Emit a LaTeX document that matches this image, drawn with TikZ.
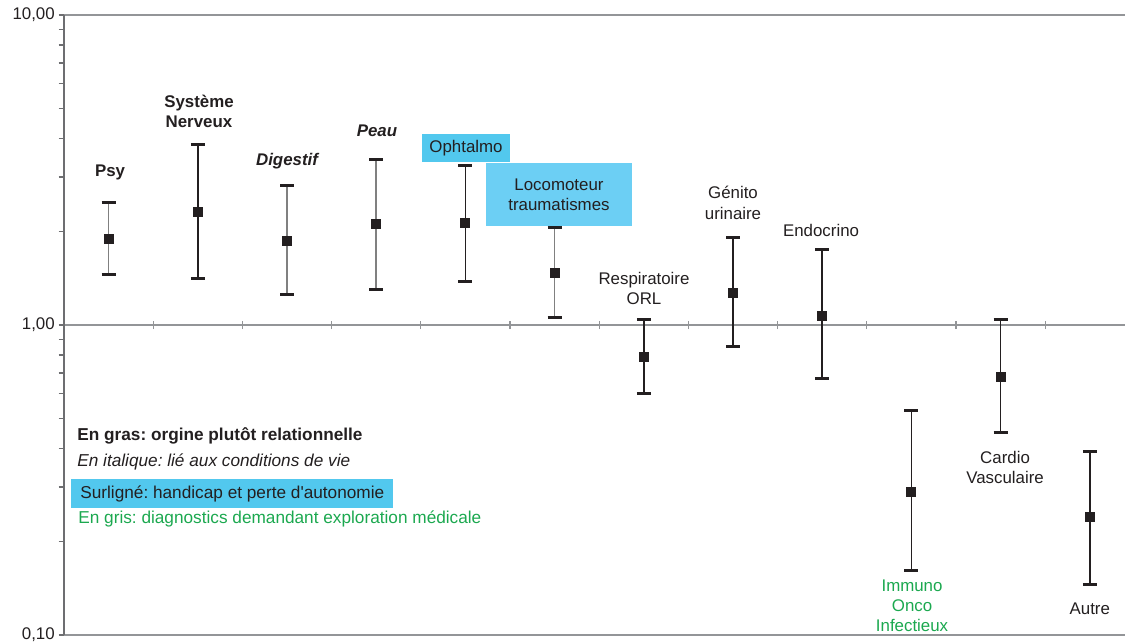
\documentclass[tikz,border=0pt]{standalone}
\usepackage{fontspec}
\setmainfont{Liberation Sans}[Ligatures=TeXOff]
\usepackage{tikz}
\usetikzlibrary{positioning}

\definecolor{textdark}{HTML}{231F20}
\definecolor{axisgray}{HTML}{6D6E71}
\definecolor{gridgray}{HTML}{939598}
\definecolor{bargray}{HTML}{808080}
\definecolor{surligne}{HTML}{52C8EE}
\definecolor{surligneclair}{HTML}{6CCFF4}
\definecolor{vertgris}{HTML}{1BA84F}

\newcommand{\chartfont}{\frenchspacing\fontsize{9.6}{11.4}\selectfont}
\newcommand{\legendfont}{\frenchspacing\fontsize{9.8}{11.4}\selectfont}

\begin{document}
\begin{tikzpicture}[
    x=1.784cm, y=6.2cm,
    every node/.style={font=\chartfont},
    axisline/.style={draw=axisgray, line width=0.7pt},
    gridline/.style={draw=gridgray, line width=0.6pt},
    barcap/.style={line width=1.7pt, draw=textdark},
    marker/.style={rectangle, fill=textdark, minimum size=0.2cm, inner sep=0pt},
    catlabel/.style={text=textdark, align=center, inner sep=0pt},
    catbold/.style={catlabel, font=\chartfont\bfseries},
    catitalic/.style={catlabel, font=\chartfont\bfseries\itshape},
    highlight/.style={fill=surligne, text=textdark, align=center, inner sep=0pt},
    legend/.style={anchor=west, text=textdark, inner sep=0pt, font=\legendfont}
]
\useasboundingbox (-0.7175,-1.0258) rectangle (11.8946,1.0484);

% axes
\draw[gridline] (0,1) -- (11.8946,1);
\draw[gridline] (0,-1) -- (11.8946,-1);
\draw[gridline] (0,0) -- (11.8946,0);
\foreach \k in {1,...,11}
  \draw[gridline] (\k,-0.013) -- (\k,0.013);
\draw[axisline] (0,-1) -- (0,1);
\foreach \d in {-1,0,1}
  \draw[axisline] (-0.06,\d) -- (0,\d);
\foreach \d in {-1,0}
  \foreach \k in {2,...,9}
    \draw[axisline] (-0.06,{\d+log10(\k)}) -- (0,{\d+log10(\k)});

\node (dix) [anchor=east, text=textdark, inner sep=0pt] at (-0.1,1) {10,00};
\node (un) [anchor=east, text=textdark, inner sep=0pt] at (-0.1,0) {1,00};
\node (dixieme) [anchor=east, text=textdark, inner sep=0pt] at (-0.1,-1) {0,10};

% barres d'erreur
\foreach \i/\c/\lo/\hi/\col in {
    1/1.89/1.45/2.48/bargray, 2/2.32/1.41/3.81/textdark,
    3/1.87/1.25/2.81/bargray, 4/2.12/1.30/3.43/bargray,
    5/2.13/1.38/3.28/textdark, 6/1.47/1.06/2.06/bargray,
    7/0.79/0.60/1.04/textdark, 8/1.27/0.85/1.91/textdark,
    9/1.07/0.67/1.75/textdark, 10/0.29/0.16/0.53/textdark,
    11/0.68/0.45/1.04/textdark, 12/0.24/0.144/0.39/textdark}{
  \coordinate (hi\i) at (\i-0.5,{log10(\hi)});
  \coordinate (lo\i) at (\i-0.5,{log10(\lo)});
  \draw[draw=\col, line width=0.9pt] (lo\i) -- (hi\i);
  \draw[barcap] ([xshift=-0.14cm]hi\i) -- ([xshift=0.14cm]hi\i);
  \draw[barcap] ([xshift=-0.14cm]lo\i) -- ([xshift=0.14cm]lo\i);
  \node (m\i) [marker] at (\i-0.5,{log10(\c)}) {};
}

% etiquettes
\node (psy) [catbold] at (0.516,0.4935) {Psy};
\node (nerveux) [catbold] at (1.513,0.690) {Système\\Nerveux};
\node (digestif) [catitalic] at (2.5,0.529) {Digestif};
\node (peau) [catitalic] at (3.509,0.626) {Peau};
\node (ophtalmo) [highlight, minimum width=1.76cm, minimum height=0.56cm] at (4.507,0.571) {Ophtalmo};
\node (locomoteur) [highlight, fill=surligneclair, minimum width=2.92cm, minimum height=1.26cm] at (5.549,0.421) {Locomoteur\\traumatismes};
\node (respi) [catlabel] at (6.502,0.119) {Respiratoire\\ORL};
\node (genito) [catlabel] at (7.5,0.394) {Génito\\urinaire};
\node (endocrino) [catlabel] at (8.487,0.306) {Endocrino};
\node (immuno) [catlabel, text=vertgris] at (9.507,-0.906) {Immuno\\Onco\\Infectieux};
\node (cardio) [catlabel] at (10.55,-0.461) {Cardio\\Vasculaire};
\node (autre) [catlabel] at (11.5,-0.916) {Autre};

% legende
\node (gras) [legend, font=\legendfont\bfseries] at (0.146,-0.358) {En gras: orgine plutôt relationnelle};
\node (italique) [legend, font=\legendfont\itshape] at (0.146,-0.442) {En italique: lié aux conditions de vie};
\node (surligne) [legend, fill=surligne, inner xsep=0.18cm, minimum height=0.58cm] at (0.0785,-0.5435) {Surligné: handicap et perte d'autonomie};
\node (gris) [legend, text=vertgris] at (0.157,-0.626) {En gris: diagnostics demandant exploration médicale};

\end{tikzpicture}
\end{document}
